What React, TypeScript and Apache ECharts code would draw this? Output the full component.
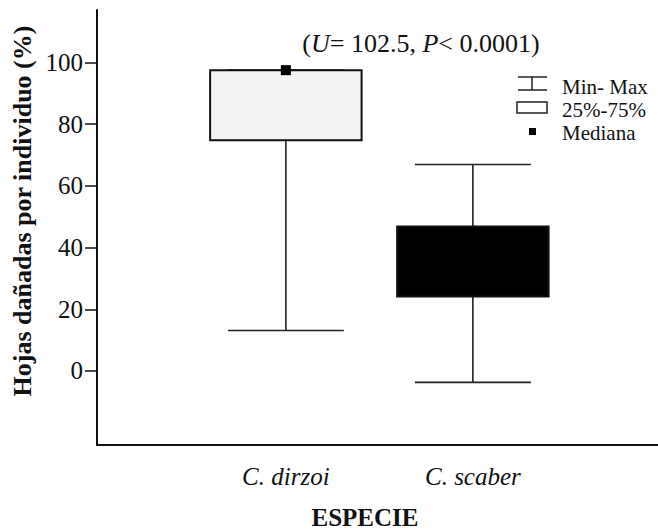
import React, { useEffect, useRef } from "react";
import * as echarts from "echarts";

const categories = ["C. dirzoi", "C. scaber"];
const minValues = [13.1, -3.7];
const q1Values = [74.8, 24.1];
const medianValues = [97.5, 35];
const q3Values = [97.5, 46.8];
const maxValues = [97.5, 66.9];
const yTicks = [0, 20, 40, 60, 80, 100];

const boxFill = ["#f3f3f3", "#000000"];
const SERIF = "'Liberation Serif', 'Times New Roman', serif";

export default function App() {
  const ref = useRef<HTMLDivElement>(null);
  useEffect(() => {
    document.body.style.margin = "0";
    if (!ref.current) return;
    const chart = echarts.init(ref.current, null, { renderer: "svg" });
    const data = categories.map((_, i) => [
      i + 1,
      minValues[i],
      q1Values[i],
      medianValues[i],
      q3Values[i],
      maxValues[i],
    ]);
    const boxHalf = 0.405;
    const capHalf = 0.31;
    const option: any = {
      animation: false,
      backgroundColor: "#ffffff",
      grid: { left: 97, top: 10, bottom: 87, width: 564 },
      xAxis: {
        type: "value",
        min: -0.01,
        max: 2.99,
        splitLine: { show: false },
        axisTick: { show: false },
        axisLine: { show: true, onZero: false, lineStyle: { color: "#111", width: 2 } },
        axisLabel: {
          customValues: [1, 2],
          formatter: (v: number) => categories[Math.round(v) - 1] ?? "",
          margin: 19,
          fontFamily: SERIF,
          fontStyle: "italic",
          fontSize: 25,
          color: "#111",
        },
      },
      yAxis: {
        type: "value",
        min: -24,
        max: 117,
        splitLine: { show: false },
        axisLine: { show: true, onZero: false, lineStyle: { color: "#111", width: 2 } },
        axisTick: {
          show: true,
          customValues: yTicks,
          length: 12,
          lineStyle: { color: "#111", width: 1.5 },
        },
        axisLabel: {
          customValues: yTicks,
          margin: 14,
          fontFamily: SERIF,
          fontSize: 25,
          color: "#111",
        },
      },
      series: [
        {
          type: "custom",
          data,
          encode: { x: 0, y: [1, 2, 3, 4, 5] },
          renderItem: (params: any, api: any) => {
            const x = api.value(0);
            const vMin = api.value(1);
            const vQ1 = api.value(2);
            const vMed = api.value(3);
            const vQ3 = api.value(4);
            const vMax = api.value(5);
            const pMin = api.coord([x, vMin]);
            const pQ1 = api.coord([x, vQ1]);
            const pMed = api.coord([x, vMed]);
            const pQ3 = api.coord([x, vQ3]);
            const pMax = api.coord([x, vMax]);
            const bl = api.coord([x - boxHalf, vQ3]);
            const br = api.coord([x + boxHalf, vQ1]);
            const cl = api.coord([x - capHalf, vMin]);
            const cr = api.coord([x + capHalf, vMin]);
            const lineStyle = { stroke: "#222", lineWidth: 1.6 };
            const idx = params.dataIndex;
            return {
              type: "group",
              children: [
                { type: "line", shape: { x1: pMin[0], y1: pMin[1], x2: pQ1[0], y2: pQ1[1] }, style: lineStyle },
                { type: "line", shape: { x1: pQ3[0], y1: pQ3[1], x2: pMax[0], y2: pMax[1] }, style: lineStyle },
                { type: "line", shape: { x1: cl[0], y1: pMin[1], x2: cr[0], y2: pMin[1] }, style: lineStyle },
                { type: "line", shape: { x1: cl[0], y1: pMax[1], x2: cr[0], y2: pMax[1] }, style: lineStyle },
                {
                  type: "rect",
                  shape: { x: bl[0], y: bl[1], width: br[0] - bl[0], height: br[1] - bl[1] },
                  style: { fill: boxFill[idx], stroke: "#111", lineWidth: 2 },
                },
                {
                  type: "rect",
                  shape: { x: pMed[0] - 5, y: pMed[1] - 5, width: 10, height: 10 },
                  style: { fill: "#000" },
                },
              ],
            };
          },
        },
      ],
      graphic: [
        {
          type: "text",
          x: 421,
          y: 43,
          style: {
            text: "{n|(}{i|U}{n|= 102.5, }{i|P}{n|< 0.0001)}",
            align: "center",
            verticalAlign: "middle",
            rich: {
              n: { fontFamily: SERIF, fontSize: 26, fill: "#111" },
              i: { fontFamily: SERIF, fontSize: 26, fontStyle: "italic", fill: "#111" },
            },
          },
        },
        {
          type: "text",
          x: 22,
          y: 211,
          rotation: Math.PI / 2,
          style: {
            text: "Hojas dañadas por individuo (%)",
            align: "center",
            verticalAlign: "middle",
            fontFamily: SERIF,
            fontWeight: "bold",
            fontSize: 26,
            fill: "#111",
          },
        },
        {
          type: "text",
          x: 365,
          y: 517,
          style: {
            text: "ESPECIE",
            align: "center",
            verticalAlign: "middle",
            fontFamily: SERIF,
            fontWeight: "bold",
            fontSize: 25,
            fill: "#111",
          },
        },
        // legend
        { type: "line", shape: { x1: 518, y1: 77, x2: 547, y2: 77 }, style: { stroke: "#222", lineWidth: 1.5 } },
        { type: "line", shape: { x1: 518, y1: 90, x2: 547, y2: 90 }, style: { stroke: "#222", lineWidth: 1.5 } },
        { type: "line", shape: { x1: 532, y1: 77, x2: 532, y2: 90 }, style: { stroke: "#222", lineWidth: 1.5 } },
        {
          type: "rect",
          shape: { x: 517, y: 102, width: 30, height: 11 },
          style: { fill: "#fff", stroke: "#222", lineWidth: 1.5 },
        },
        { type: "rect", shape: { x: 529, y: 128, width: 7, height: 7 }, style: { fill: "#000" } },
        {
          type: "text",
          x: 562,
          y: 87,
          style: { text: "Min- Max", verticalAlign: "middle", fontFamily: SERIF, fontSize: 21, fill: "#111" },
        },
        {
          type: "text",
          x: 562,
          y: 110,
          style: { text: "25%-75%", verticalAlign: "middle", fontFamily: SERIF, fontSize: 21, fill: "#111" },
        },
        {
          type: "text",
          x: 562,
          y: 133,
          style: { text: "Mediana", verticalAlign: "middle", fontFamily: SERIF, fontSize: 21, fill: "#111" },
        },
      ],
    };
    chart.setOption(option);
    return () => chart.dispose();
  }, []);
  return <div ref={ref} style={{ width: 658, height: 532 }} />;
}
